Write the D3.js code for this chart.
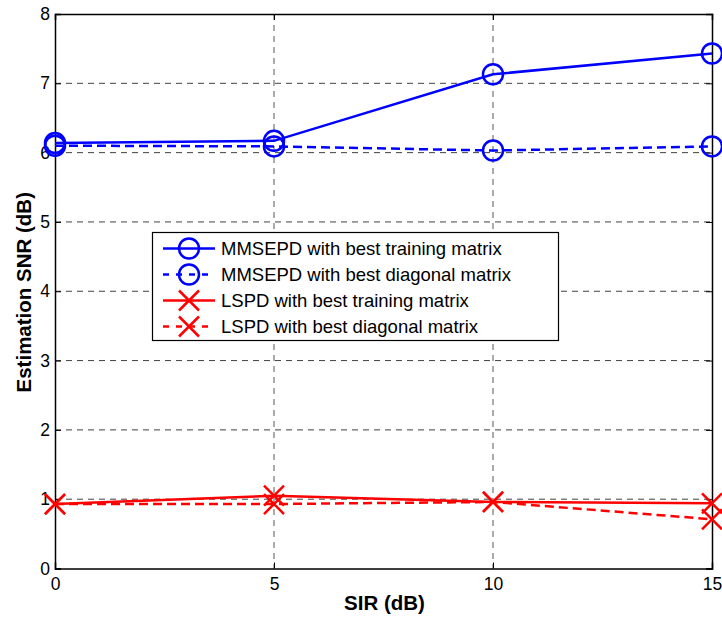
<!DOCTYPE html>
<html><head><meta charset="utf-8">
<script src="https://cdn.jsdelivr.net/npm/d3@7"></script>
<style>body{margin:0;background:#fff}svg{display:block;font-family:"Liberation Sans",Arial,sans-serif}</style>
</head><body><svg id="c" width="722" height="621"></svg>
<script>
const sir = [0, 5, 10, 15];
const mmseTrain = [6.14, 6.17, 7.13, 7.43];
const mmseDiag = [6.10, 6.09, 6.03, 6.09];
const lsTrain = [0.93, 1.05, 0.96, 0.94];
const lsDiag = [0.93, 0.93, 0.96, 0.71];
const xTicks = [0, 5, 10, 15];
const yTicks = [0, 1, 2, 3, 4, 5, 6, 7, 8];
const seriesNames = ["MMSEPD with best training matrix","MMSEPD with best diagonal matrix","LSPD with best training matrix","LSPD with best diagonal matrix"];

const svg = d3.select("#c");
const L = 55, R = 712, T = 14, B = 568.5;
const x = d3.scaleLinear().domain([0, 15]).range([L, R]);
const y = d3.scaleLinear().domain([0, 8]).range([B, T]);

// grid
const g = svg.append("g");
g.selectAll("line.gx").data(xTicks.slice(1, -1)).enter().append("line")
  .attr("x1", d => x(d)).attr("x2", d => x(d)).attr("y1", T).attr("y2", B)
  .attr("stroke", "#000").attr("stroke-opacity", 0.55).attr("stroke-width", 1.2).attr("stroke-dasharray", "6,5");
g.selectAll("line.gy").data(yTicks.slice(1, -1)).enter().append("line")
  .attr("x1", L).attr("x2", R).attr("y1", d => y(d)).attr("y2", d => y(d))
  .attr("stroke", "#000").attr("stroke-opacity", 0.75).attr("stroke-width", 1).attr("stroke-dasharray", "6,5");

// axes
const xa = svg.append("g").attr("transform", `translate(0,${B})`)
  .call(d3.axisBottom(x).tickValues(xTicks).tickSize(-6).tickPadding(9).tickFormat(d3.format("d")));
const xa2 = svg.append("g").attr("transform", `translate(0,${T})`)
  .call(d3.axisTop(x).tickValues(xTicks).tickSize(-6).tickFormat(""));
const ya = svg.append("g").attr("transform", `translate(${L},0)`)
  .call(d3.axisLeft(y).tickValues(yTicks).tickSize(-6).tickPadding(5).tickFormat(d3.format("d")));
const ya2 = svg.append("g").attr("transform", `translate(${R},0)`)
  .call(d3.axisRight(y).tickValues(yTicks).tickSize(-6).tickFormat(""));
[xa, xa2, ya, ya2].forEach(a => {
  a.select(".domain").attr("stroke", "#000").attr("stroke-width", 1.5);
  a.selectAll(".tick line").attr("stroke", "#000").attr("stroke-width", 1);
  a.selectAll("text").attr("font-size", 17.5).attr("fill", "#000").attr("font-family", "Liberation Sans, Arial, sans-serif");
});

svg.append("text").attr("x", (L + R) / 2 + 1).attr("y", 610).attr("text-anchor", "middle")
  .attr("font-size", 20.5).attr("font-weight", "bold").text("SIR (dB)");
svg.append("text").attr("transform", `translate(31,${(T + B) / 2 + 1}) rotate(-90)`).attr("text-anchor", "middle")
  .attr("font-size", 20.5).attr("font-weight", "bold").text("Estimation SNR (dB)");

const series = [
  {v: mmseTrain, c: "#0000ff", dash: null, m: "o"},
  {v: mmseDiag, c: "#0000ff", dash: "9,5", m: "o"},
  {v: lsTrain, c: "#ff0000", dash: null, m: "x"},
  {v: lsDiag, c: "#ff0000", dash: "9,5", m: "x"}
];
const line = d3.line().x((d, i) => x(sir[i])).y(d => y(d));

function marker(sel, type, color) {
  if (type === "o") {
    sel.append("circle").attr("r", 10).attr("fill", "none").attr("stroke", color).attr("stroke-width", 2.5);
  } else {
    sel.append("path").attr("d", "M-10,-10L10,10M-10,10L10,-10").attr("stroke", color).attr("stroke-width", 2.5).attr("fill", "none");
  }
}

const plot = svg.append("g");
series.forEach(s => {
  plot.append("path").datum(s.v).attr("d", line).attr("fill", "none").attr("stroke", s.c)
    .attr("stroke-width", 2.5).attr("stroke-dasharray", s.dash);
  s.v.forEach((d, i) => {
    const mg = plot.append("g").attr("transform", `translate(${x(sir[i])},${y(d)})`);
    marker(mg, s.m, s.c);
  });
});

// legend
const lg = svg.append("g");
lg.append("rect").attr("x", 152.5).attr("y", 232.5).attr("width", 406).attr("height", 108)
  .attr("fill", "#fff").attr("stroke", "#000").attr("stroke-width", 1.2);
const rowY = [248.5, 274.5, 300.5, 326.5];
series.forEach((s, i) => {
  lg.append("line").attr("x1", 163).attr("x2", 215).attr("y1", rowY[i]).attr("y2", rowY[i])
    .attr("stroke", s.c).attr("stroke-width", 2.5).attr("stroke-dasharray", s.dash ? "6,7" : null);
  const mg = lg.append("g").attr("transform", `translate(189,${rowY[i]})`);
  marker(mg, s.m, s.c);
  lg.append("text").attr("x", 221).attr("y", rowY[i]).attr("dy", "0.36em").attr("font-size", 18.5)
    .attr("fill", "#000").text(seriesNames[i]);
});
</script></body></html>
